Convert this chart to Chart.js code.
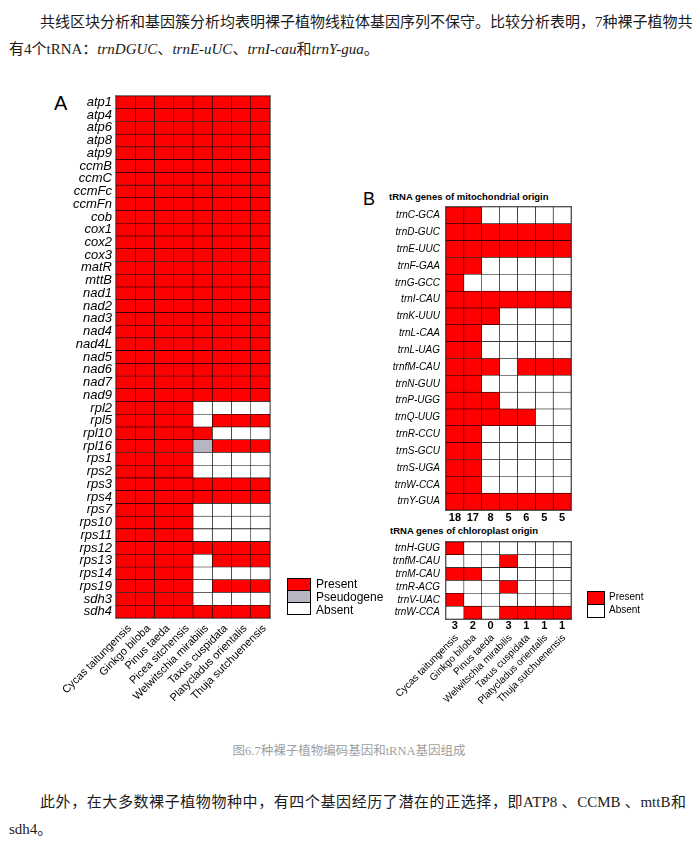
<!DOCTYPE html>
<html><head><meta charset="utf-8">
<script src="https://cdn.jsdelivr.net/npm/chart.js@4.4.1/dist/chart.umd.min.js"></script>
<style>
html,body{margin:0;padding:0;background:#fff;}
body{width:698px;height:853px;position:relative;overflow:hidden;font-family:"Liberation Serif","Noto Sans CJK SC",serif;}
.abs{position:absolute;white-space:nowrap;}
.txt{font-size:15px;line-height:20px;color:#1a1a1a;}
.just{text-align:justify;text-align-last:justify;}
canvas{position:absolute;}
.fig{font-family:"Liberation Sans",Arial,sans-serif;color:#000;}
.sw{position:absolute;box-sizing:border-box;border:1px solid #000;}
</style></head><body>

<div class="abs txt just" style="left:40px;top:12px;width:646px;">共线区块分析和基因簇分析均表明裸子植物线粒体基因序列不保守。比较分析表明，7种裸子植物共</div>
<div class="abs txt" style="left:9px;top:39px;">有4个tRNA：<i>trnDGUC</i>、<i>trnE-uUC</i>、<i>trnI-cau</i>和<i>trnY-gua</i>。</div>

<div class="abs fig" style="left:54px;top:91px;font-size:20px;line-height:24px;">A</div>
<div class="abs fig" style="left:363px;top:188px;font-size:18px;line-height:22px;">B</div>
<div class="abs fig" style="left:389px;top:191px;font-size:9.5px;line-height:12px;font-weight:bold;">tRNA genes of mitochondrial origin</div>
<div class="abs fig" style="left:390px;top:525px;font-size:9.5px;line-height:12px;font-weight:bold;">tRNA genes of chloroplast origin</div>

<canvas id="cA" width="300" height="650" style="left:0px;top:80px;width:300px;height:650px;"></canvas>
<canvas id="cB1" width="220" height="340" style="left:370px;top:195px;width:220px;height:340px;"></canvas>
<canvas id="cB2" width="220" height="200" style="left:370px;top:530px;width:220px;height:200px;"></canvas>

<div class="sw" style="left:287px;top:578px;width:24px;height:13px;background:#ff0000;"></div>
<div class="sw" style="left:287px;top:590px;width:24px;height:13px;background:#b6b5c1;"></div>
<div class="sw" style="left:287px;top:602px;width:24px;height:13px;background:#fff;"></div>
<div class="abs fig" style="left:316px;top:577px;font-size:12px;line-height:14px;">Present</div>
<div class="abs fig" style="left:316px;top:590px;font-size:12px;line-height:14px;">Pseudogene</div>
<div class="abs fig" style="left:316px;top:603px;font-size:12px;line-height:14px;">Absent</div>

<div class="sw" style="left:587px;top:591px;width:18px;height:14px;background:#ff0000;"></div>
<div class="sw" style="left:587px;top:604px;width:18px;height:14px;background:#fff;"></div>
<div class="abs fig" style="left:609px;top:591px;font-size:10px;line-height:12px;">Present</div>
<div class="abs fig" style="left:609px;top:604px;font-size:10px;line-height:12px;">Absent</div>

<div class="abs" style="left:0;top:742px;width:698px;text-align:center;font-size:12.5px;line-height:18px;color:#a0a0a0;">图6.7种裸子植物编码基因和tRNA基因组成</div>

<div class="abs txt just" style="left:40px;top:792px;width:646px;">此外，在大多数裸子植物物种中，有四个基因经历了潜在的正选择，即ATP8 、CCMB 、mttB和</div>
<div class="abs txt" style="left:9px;top:819px;">sdh4。</div>

<script>
// ---------- Panel A data ----------
const genes = ['atp1','atp4','atp6','atp8','atp9','ccmB','ccmC','ccmFc','ccmFn','cob','cox1','cox2','cox3','matR','mttB',
  'nad1','nad2','nad3','nad4','nad4L','nad5','nad6','nad7','nad9',
  'rpl2','rpl5','rpl10','rpl16','rps1','rps2','rps3','rps4','rps7','rps10','rps11','rps12','rps13','rps14','rps19','sdh3','sdh4'];
const speciesA = ['Cycas taitungensis','Ginkgo biloba','Pinus taeda','Picea sitchensis','Welwitschia mirabilis','Taxus cuspidata','Platycladus orientalis','Thuja sutchuenensis'];
// 1 = present, 2 = pseudogene, 0 = absent (order follows genes)
const cycasA       = [1,1,1,1,1,1,1,1,1,1,1,1,1,1,1,1,1,1,1,1,1,1,1,1, 1,1,1,1,1,1,1,1,1,1,1,1,1,1,1,1,1];
const ginkgoA      = [1,1,1,1,1,1,1,1,1,1,1,1,1,1,1,1,1,1,1,1,1,1,1,1, 1,1,1,1,1,1,1,1,1,1,1,1,1,1,1,1,1];
const pinusA       = [1,1,1,1,1,1,1,1,1,1,1,1,1,1,1,1,1,1,1,1,1,1,1,1, 1,1,1,1,1,1,1,1,1,1,1,1,1,1,1,1,1];
const piceaA       = [1,1,1,1,1,1,1,1,1,1,1,1,1,1,1,1,1,1,1,1,1,1,1,1, 1,1,1,1,1,1,1,1,1,1,1,1,1,1,1,1,1];
const welwitschiaA = [1,1,1,1,1,1,1,1,1,1,1,1,1,1,1,1,1,1,1,1,1,1,1,1, 0,0,1,2,0,0,1,1,0,0,0,1,0,0,0,0,1];
const taxusA       = [1,1,1,1,1,1,1,1,1,1,1,1,1,1,1,1,1,1,1,1,1,1,1,1, 0,1,0,1,0,0,1,1,0,0,0,1,1,0,1,0,1];
const platycladusA = [1,1,1,1,1,1,1,1,1,1,1,1,1,1,1,1,1,1,1,1,1,1,1,1, 0,1,0,1,0,0,1,1,0,0,0,1,1,0,1,0,1];
const thujaA       = [1,1,1,1,1,1,1,1,1,1,1,1,1,1,1,1,1,1,1,1,1,1,1,1, 0,1,0,1,0,0,1,1,0,0,0,1,1,0,1,0,1];

// ---------- Panel B data ----------
const speciesB = ['Cycas taitungensis','Ginkgo biloba','Pinus taeda','Welwitschia mirabilis','Taxus cuspidata','Platycladus orientalis','Thuja sutchuenensis'];
const mitoTrna = ['trnC-GCA','trnD-GUC','trnE-UUC','trnF-GAA','trnG-GCC','trnI-CAU','trnK-UUU','trnL-CAA','trnL-UAG','trnfM-CAU','trnN-GUU','trnP-UGG','trnQ-UUG','trnR-CCU','trnS-GCU','trnS-UGA','trnW-CCA','trnY-GUA'];
const cycasMt       = [1,1,1,1,1,1,1,1,1,1,1,1,1,1,1,1,1,1];
const ginkgoMt      = [1,1,1,1,0,1,1,1,1,1,1,1,1,1,1,1,1,1];
const pinusMt       = [0,1,1,0,0,1,1,0,0,1,0,1,1,0,0,0,0,1];
const welwitschiaMt = [0,1,1,0,0,1,0,0,0,0,0,0,1,0,0,0,0,1];
const taxusMt       = [0,1,1,0,0,1,0,0,0,1,0,0,1,0,0,0,0,1];
const platycladusMt = [0,1,1,0,0,1,0,0,0,1,0,0,0,0,0,0,0,1];
const thujaMt       = [0,1,1,0,0,1,0,0,0,1,0,0,0,0,0,0,0,1];
const mitoCounts = [18,17,8,5,6,5,5];

const cpTrna = ['trnH-GUG','trnfM-CAU','trnM-CAU','trnR-ACG','trnV-UAC','trnW-CCA'];
const cycasCp       = [1,0,1,0,1,0];
const ginkgoCp      = [0,0,1,0,0,1];
const pinusCp       = [0,0,0,0,0,0];
const welwitschiaCp = [0,1,0,1,0,1];
const taxusCp       = [0,0,0,0,0,1];
const platycladusCp = [0,0,0,0,0,1];
const thujaCp       = [0,0,0,0,0,1];
const cpCounts = [3,2,0,3,1,1,1];

// ---------- styles ----------
const COLORS = {0:'#ffffff', 1:'#ff0000', 2:'#b6b5c1'};
const FONT = '"Liberation Sans", Arial, sans-serif';
Chart.defaults.color = '#000';
Chart.defaults.font.family = FONT;

const frame = {
  id: 'frame',
  afterDatasetsDraw(chart, args, opts) {
    if (!opts.color) return;
    const a = chart.chartArea, c = chart.ctx;
    c.save(); c.strokeStyle = opts.color; c.lineWidth = 1;
    c.strokeRect(Math.round(a.left) - 0.5, Math.round(a.top) - 0.5, Math.round(a.right - a.left) + 1, Math.round(a.bottom - a.top) + 1);
    c.restore();
  }
};

function colTicks(cols) {
  return function (s) { s.ticks = cols.map((c, i) => ({ value: i + 0.5 })); };
}

function heatmap(id, rows, cols, status, cfg) {
  const datasets = cols.map((c, j) => ({
    label: c,
    data: rows.map(() => [j, j + 1]),
    backgroundColor: status[j].map(v => COLORS[v]),
    borderColor: '#000',
    borderWidth: cfg.bw,
    borderSkipped: false,
    barPercentage: 1,
    categoryPercentage: 1,
    grouped: false
  }));
  const scales = {
    y: {
      type: 'category', offset: true,
      grid: { display: false, drawTicks: false }, border: { display: false },
      ticks: { autoSkip: false, padding: cfg.yPad, color: '#000', font: { size: cfg.yFont, style: 'italic', family: FONT } },
      afterFit(s) { s.width = cfg.yW; }
    }
  };
  cfg.xAxes.forEach((ax, k) => {
    scales[ax.id] = {
      type: 'linear', position: 'bottom', weight: k, min: 0, max: cols.length,
      grid: { display: false, drawTicks: false }, border: { display: false },
      afterBuildTicks: colTicks(cols),
      ticks: {
        autoSkip: false, minRotation: ax.rot, maxRotation: ax.rot, padding: ax.pad, labelOffset: ax.off || 0,
        color: '#000', font: { size: ax.font, weight: ax.bold ? 'bold' : 'normal', family: FONT },
        callback: (v, i) => ax.labels[i]
      },
      afterFit(s) { s.height = ax.h; }
    };
  });
  return new Chart(document.getElementById(id), {
    type: 'bar',
    data: { labels: rows, datasets },
    options: {
      indexAxis: 'y', responsive: false, animation: false,
      layout: { padding: cfg.padding },
      plugins: { legend: { display: false }, tooltip: { enabled: false }, frame: { color: cfg.frame } },
      scales
    },
    plugins: [frame]
  });
}

heatmap('cA', genes, speciesA,
  [cycasA, ginkgoA, pinusA, piceaA, welwitschiaA, taxusA, platycladusA, thujaA],
  { bw: 0.6, yW: 116, yPad: 4, yFont: 13, padding: { top: 16, right: 30, bottom: 0, left: 0 }, frame: '#7a7a7a',
    xAxes: [{ id: 'x', labels: speciesA, rot: 45, pad: 4, off: 4, font: 11, h: 112 }] });

heatmap('cB1', mitoTrna, speciesB,
  [cycasMt, ginkgoMt, pinusMt, welwitschiaMt, taxusMt, platycladusMt, thujaMt],
  { bw: 0.6, yW: 76, yPad: 6, yFont: 10, padding: { top: 10, right: 19, bottom: 0, left: 0 }, frame: '#555',
    xAxes: [{ id: 'x', labels: mitoCounts.map(String), rot: 0, pad: 1, font: 11, bold: true, h: 25 }] });

heatmap('cB2', cpTrna, speciesB,
  [cycasCp, ginkgoCp, pinusCp, welwitschiaCp, taxusCp, platycladusCp, thujaCp],
  { bw: 0.6, yW: 76, yPad: 6, yFont: 10, padding: { top: 9, right: 19, bottom: 0, left: 0 }, frame: '#555',
    xAxes: [{ id: 'x', labels: cpCounts.map(String), rot: 0, pad: 0, font: 11, bold: true, h: 12 },
            { id: 'x2', labels: speciesB, rot: 45, pad: 1, off: 2, font: 10, h: 99 }] });
</script>
</body></html>
